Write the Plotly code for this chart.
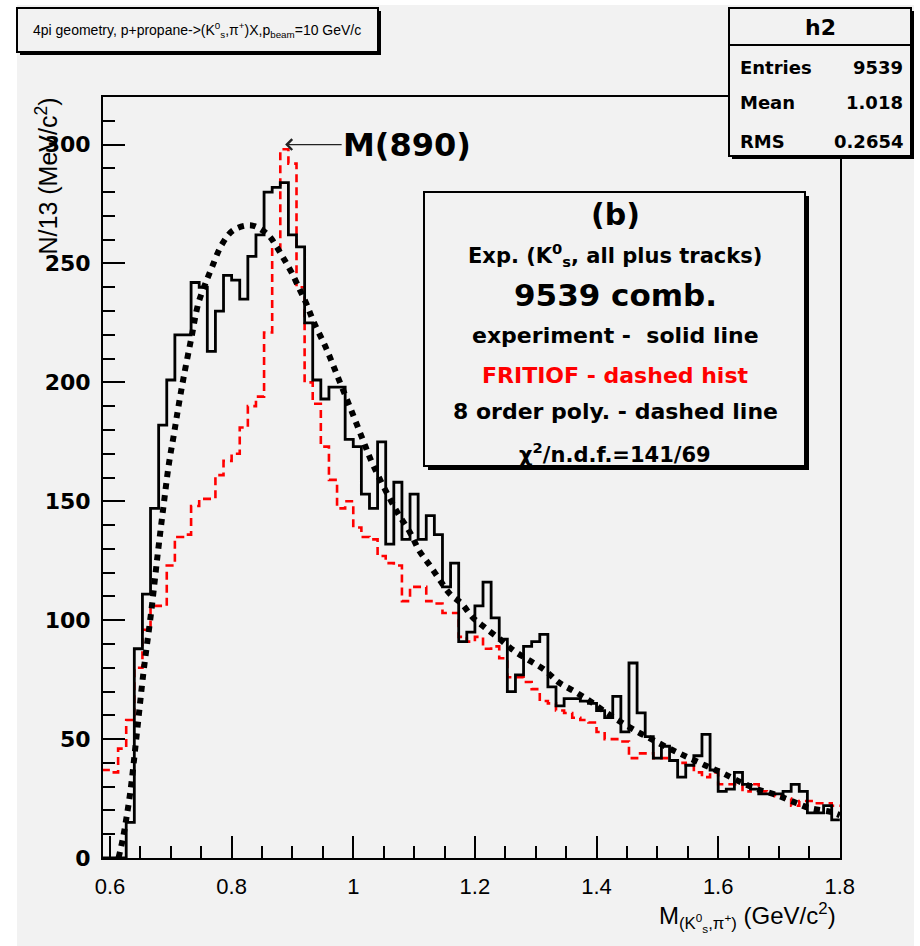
import numpy as np
import plotly.graph_objects as go

# ---------------- data ----------------
BIN_LO = 0.58667            # lower edge of first bin (GeV/c^2)
BIN_W = 0.8 / 60            # bin width (~13 MeV)

# experiment (solid black histogram), counts per bin
EXP = [0, 0, 0, 15, 88, 111, 147, 182, 201, 220,
       220, 242, 240, 213, 230, 245, 243, 235, 253, 262,
       280, 282, 284, 262, 257, 225, 201, 193, 198, 198,
       176, 173, 153, 147, 175, 132, 158, 134, 153, 134,
       144, 136, 114, 124, 91, 95, 106, 116, 101, 92,
       70, 77, 89, 91, 94, 72, 64, 67, 67, 66,
       65, 62, 59, 68, 53, 82, 61, 51, 42, 47,
       41, 34, 39, 43, 52, 37, 28, 29, 36, 31,
       29, 27, 27, 27, 28, 31, 28, 19, 19, 22,
       16]

# FRITIOF (red dashed histogram)
FRITIOF = [37, 36, 46, 58, 80, 96, 106, 106, 123, 135,
           136, 148, 151, 151, 161, 167, 170, 181, 190, 194,
           221, 256, 298, 292, 240, 200, 191, 173, 159, 147,
           150, 139, 135, 134, 127, 124, 123, 108, 114, 114,
           108, 107, 103, 103, 93, 91, 93, 88, 89, 84,
           76, 76, 74, 71, 66, 65, 62, 61, 59, 58,
           57, 53, 50, 50, 49, 42, 44, 44, 42, 42,
           41, 40, 39, 36, 34, 36, 31, 31, 31, 28,
           31, 28, 27, 26, 25, 22, 24, 24, 23, 23,
           22]

# 8th order polynomial fit (thick dotted line)
FIT_X = [0.614, 0.621, 0.633, 0.644, 0.655, 0.668, 0.679, 0.688, 0.697, 0.705,
         0.712, 0.721, 0.734, 0.745, 0.756, 0.767, 0.784, 0.803, 0.833, 0.860,
         0.874, 0.888, 0.899, 0.912, 0.923, 0.934, 0.956, 0.975, 0.994, 1.014,
         1.033, 1.071, 1.093, 1.109, 1.126, 1.142, 1.159, 1.178, 1.197, 1.216,
         1.241, 1.265, 1.290, 1.315, 1.337, 1.364, 1.389, 1.414, 1.441, 1.468,
         1.493, 1.520, 1.548, 1.578, 1.608, 1.641, 1.668, 1.696, 1.723, 1.750,
         1.783, 1.800]
FIT_Y = [0, 8, 27, 52, 78, 104, 129, 148, 166, 178,
         189, 202, 219, 233, 241, 248, 258, 264, 266, 262,
         257, 251, 246, 239, 233, 226, 214, 202, 190, 177,
         165, 146, 137, 129, 123, 117, 111, 107, 101, 97,
         92, 87, 83, 79, 74, 70, 66, 61.5, 57, 53,
         49.6, 46, 42.6, 39, 35.6, 31.4, 28.6, 26.5, 23.7, 21,
         19.5, 18]

X_TICKS = [0.6, 0.8, 1.0, 1.2, 1.4, 1.6, 1.8]
X_TICKTEXT = ["0.6", "0.8", "1", "1.2", "1.4", "1.6", "1.8"]
Y_TICKS = [0, 50, 100, 150, 200, 250, 300]

STATS = [("Entries", "9539"), ("Mean", "1.018"), ("RMS", "0.2654")]

# ---------------- layout geometry (pixels) ----------------
W, H = 920, 946
L, R, T, B = 103, 840, 97, 858
BG = "#f2f2f2"


def px(xp):
    return (xp - L) / (R - L)


def py(yp):
    return (B - yp) / (B - T)


def hist_xy(vals):
    n = len(vals)
    edges = BIN_LO + BIN_W * np.arange(n + 1)
    yv = list(vals) + [vals[-1]]
    return edges, yv


fig = go.Figure()

ex, ey = hist_xy(FRITIOF)
fig.add_trace(go.Scatter(x=ex, y=ey, mode="lines", line_shape="hv",
                         line=dict(color="#ff0000", width=2.6, dash="8px,5px"),
                         hoverinfo="skip", showlegend=False))
bx, by = hist_xy(EXP)
fig.add_trace(go.Scatter(x=bx, y=by, mode="lines", line_shape="hv",
                         line=dict(color="black", width=2.8),
                         hoverinfo="skip", showlegend=False))
fig.add_trace(go.Scatter(x=FIT_X, y=FIT_Y, mode="lines", line_shape="spline",
                         line=dict(color="black", width=6, dash="dot"),
                         hoverinfo="skip", showlegend=False))

shapes = []
# canvas background (white strip on left / top edge)
shapes.append(dict(type="rect", xref="paper", yref="paper", layer="below",
                   x0=px(17), x1=px(914), y0=py(5), y1=py(946),
                   fillcolor=BG, line=dict(width=0)))


def shadow_box(x0, y0, x1, y1, off):
    shapes.append(dict(type="rect", xref="paper", yref="paper", layer="above",
                       x0=px(x0 + off), x1=px(x1 + off), y0=py(y0 + off), y1=py(y1 + off),
                       fillcolor="black", line=dict(width=0)))
    shapes.append(dict(type="rect", xref="paper", yref="paper", layer="above",
                       x0=px(x0), x1=px(x1), y0=py(y0), y1=py(y1),
                       fillcolor=BG, line=dict(color="black", width=2)))


shadow_box(17, 8, 378, 52, 3)          # title box
shadow_box(729, 8, 911, 156, 3)        # stats box
shapes.append(dict(type="line", xref="paper", yref="paper", layer="above",
                   x0=px(729), x1=px(911), y0=py(45), y1=py(45),
                   line=dict(color="black", width=2)))
shadow_box(424, 192, 805, 466, 4)      # legend box

ann = []
FB = "DejaVu Sans"
FN = "Liberation Sans"


def text(xp, yp, s, size, family=FB, color="black", xanchor="center", bold=True, angle=0,
         yanchor="middle"):
    ann.append(dict(xref="paper", yref="paper", x=px(xp), y=py(yp), text=s,
                    showarrow=False, xanchor=xanchor, yanchor=yanchor, textangle=angle,
                    font=dict(family=family, size=size, color=color,
                              weight="bold" if bold else "normal")))


# title
text(197, 30, "4pi geometry, p+propane-&gt;(K<sup>0</sup><sub>s</sub>,π<sup>+</sup>)X,p<sub>beam</sub>=10 GeV/c",
     14, family=FN, bold=False)
# stats box
text(820, 27, "h2", 22)
for (k, v), yy in zip(STATS, [68, 102, 141]):
    text(738, yy, k, 18, xanchor="left")
    text(905, yy, v, 18, xanchor="right")
# legend box
cx = 615
text(cx, 214, "(b)", 30)
text(cx, 255, "Exp. (K<sup>0</sup><sub>s</sub>, all plus tracks)", 21)
text(cx, 295, "9539 comb.", 31)
text(cx, 335, "experiment -  solid line", 22)
text(cx, 375, "FRITIOF - dashed hist", 22, color="#ff0000")
text(cx, 411, "8 order poly. - dashed line", 22)
text(cx, 453, "χ<sup>2</sup>/n.d.f.=141/69", 21)
# axis titles
text(838, 917, "M<sub>(K<sup>0</sup><sub>s</sub>,π<sup>+</sup>)</sub> (GeV/c<sup>2</sup>)", 24,
     family=FN, bold=False, xanchor="right")
ann.append(dict(xref="paper", yref="paper", x=px(46), y=py(96), text="N/13 (MeV/c<sup>2</sup>)",
                showarrow=False, xanchor="center", yanchor="top", textangle=-90,
                font=dict(family=FN, size=25, color="black")))
# M(890) with arrow
ann.append(dict(xref="x", yref="y", x=0.888, y=300, ax=122, ay=0,
                text="M(890)", showarrow=True, arrowhead=4, arrowsize=1.6, arrowwidth=1.3,
                arrowcolor="#222222", standoff=0,
                font=dict(family=FB, size=32, color="black", weight="bold")))

axis_common = dict(showline=True, linewidth=2, linecolor="black", mirror=True,
                   showgrid=False, zeroline=False, ticks="inside", ticklen=22,
                   tickwidth=2, tickcolor="black")

fig.update_layout(
    width=W, height=H,
    margin=dict(l=L, r=W - R, t=T, b=H - B),
    paper_bgcolor="white", plot_bgcolor=BG,
    showlegend=False,
    shapes=shapes, annotations=ann,
    xaxis=dict(range=[0.5885, 1.8003], tickvals=X_TICKS, ticktext=X_TICKTEXT,
               tickfont=dict(family=FN, size=22, color="black"), ticklabelstandoff=8,
               minor=dict(ticks="inside", ticklen=12, tickwidth=2, tickcolor="black",
                          dtick=0.05, tick0=0.6, showgrid=False),
               **axis_common),
    yaxis=dict(range=[0, 320], tickvals=Y_TICKS,
               tickfont=dict(family=FB, size=22, color="black", weight="bold"),
               ticklabelstandoff=6,
               minor=dict(ticks="inside", ticklen=12, tickwidth=2, tickcolor="black",
                          dtick=10, tick0=0, showgrid=False),
               **axis_common),
)

fig.write_html("out.html")
